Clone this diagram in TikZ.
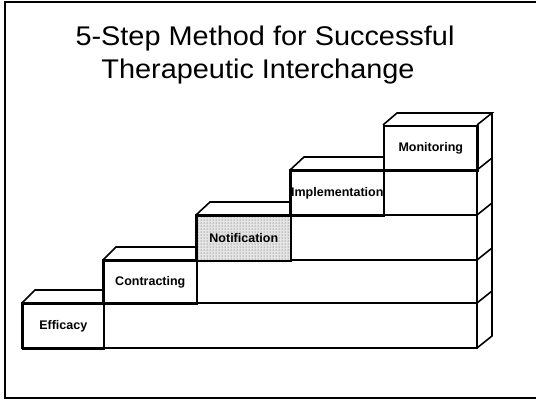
\documentclass[tikz,border=0pt]{standalone}
\usepackage{fontspec}
\setmainfont{Liberation Sans}
\usetikzlibrary{patterns}
\begin{document}
\begin{tikzpicture}[x=1pt,y=-1pt,
  edge/.style={line width=1.6pt, line join=miter},
  dashedge/.style={line width=1.2pt, dash dot},
  stepbox/.style={draw, line width=1.6pt, anchor=north west, inner sep=0pt,
    minimum height=45pt, font=\fontsize{12.5}{12.5}\selectfont\bfseries},
  titletext/.style={anchor=base, font=\fontsize{27}{33}\selectfont}]
\useasboundingbox (0,0) rectangle (536,400);

% slide frame
\draw[line width=1.5pt] (540,2) -- (5,2) -- (5,398) -- (540,398);

% title
\node[titletext] (title1) at (265,45) {\scalebox{1.07}[1]{5-Step Method for Successful}};
\node[titletext] (title2) at (258,78) {\scalebox{1.07}[1]{Therapeutic Interchange}};

% right side face of the staircase
\coordinate (rf1) at (477,125);
\coordinate (rb1) at (492,113);
\coordinate (rb2) at (492,336);
\coordinate (rf2) at (477,348);
\draw[edge] (rb1) -- (rb2) -- (rf2);
\draw[edge] (rf1) -- (477,170);
\draw[dashedge] (477,170) -- (rf2);
\foreach \y in {170,215,260,303}
  \draw[edge] (477,\y) -- (492,\y-12);

% long bars behind each step
\draw[edge] (22,303) rectangle (477,348);
\draw[edge] (103,260) rectangle (477,303);
\draw[edge] (196,215) rectangle (477,260);
\draw[edge] (290,170) rectangle (477,215);

% top faces
\draw[edge] (22,303) -- (35,290) -- (103,290);
\draw[edge] (103,260) -- (116,247) -- (196,247);
\draw[edge] (196,215) -- (210,202) -- (290,202);
\draw[edge] (290,170) -- (304,157) -- (383,157);
\draw[edge] (383,125) -- (397,113) -- (rb1) -- (rf1);

% stippled step
\fill[black!10] (196,215) rectangle (290,260);
\fill[pattern=dots, pattern color=black!70] (196,215) rectangle (290,260);

% labelled steps
\node[stepbox, minimum width=81pt] (efficacy) at (22,303) {Efficacy};
\node[stepbox, minimum width=93pt, minimum height=43pt] (contracting) at (103,260) {Contracting};
\node[stepbox, minimum width=94pt] (notification) at (196,215) {Notification};
\node[stepbox, minimum width=93pt] (implementation) at (290,170) {Implementation};
\node[stepbox, minimum width=94pt] (monitoring) at (383,125) {Monitoring};
\end{tikzpicture}
\end{document}
